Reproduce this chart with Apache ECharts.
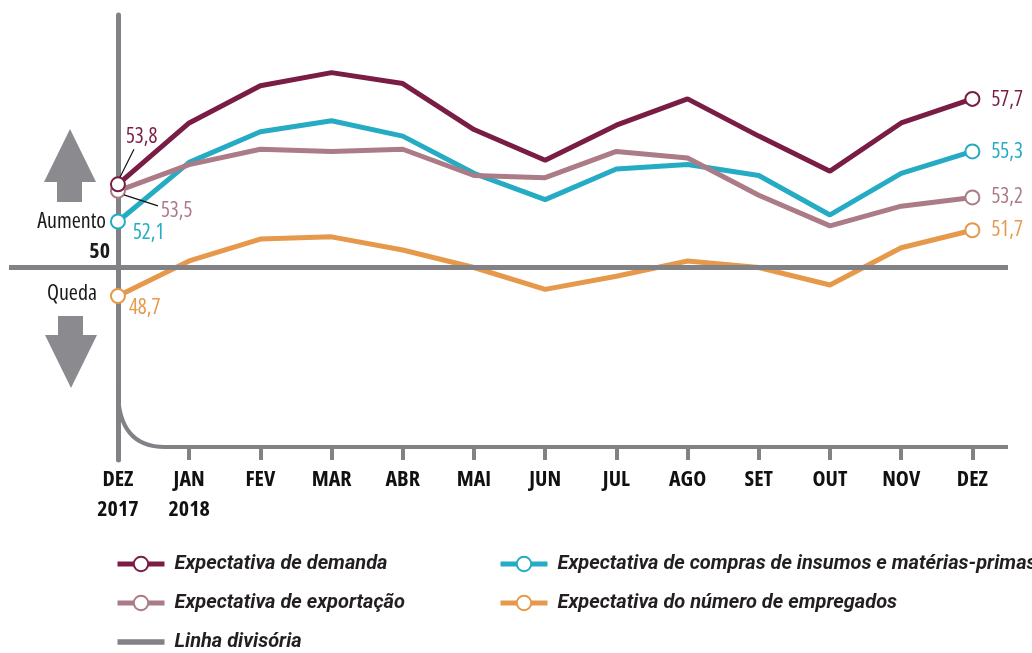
<!DOCTYPE html>
<html>
<head>
<meta charset="utf-8">
<script src="https://cdn.jsdelivr.net/npm/echarts@6/dist/echarts.min.js"></script>
<style>
  html, body { margin: 0; padding: 0; background: #fff; }
  #main { width: 1032px; height: 653px; }
</style>
</head>
<body>
<div id="main"></div>
<script>
// meses (DEZ 2017 .. DEZ 2018)
const months = ["DEZ\n2017", "JAN\n2018", "FEV", "MAR", "ABR", "MAI", "JUN", "JUL", "AGO", "SET", "OUT", "NOV", "DEZ"];

// valores
const demanda = [53.8, 56.6, 58.3, 58.9, 58.4, 56.3, 54.9, 56.5, 57.7, 56.0, 54.4, 56.6, 57.7];
const compras = [52.1, 54.8, 56.2, 56.7, 56.0, 54.3, 53.1, 54.5, 54.7, 54.2, 52.4, 54.3, 55.3];
const exportacao = [53.5, 54.7, 55.4, 55.3, 55.4, 54.2, 54.1, 55.3, 55.0, 53.3, 51.9, 52.8, 53.2];
const empregados = [48.7, 50.3, 51.3, 51.4, 50.8, 50.0, 49.0, 49.6, 50.3, 50.0, 49.2, 50.9, 51.7];
const divisoria = 50;

// fonte estreita: Open Sans com largura condensada (via fontWeight)
const NARROW = "'Open Sans', sans-serif";
const LEGEND_FONT = "Roboto, sans-serif";
const GRAY = "#818186";

const names = {
  demanda: "Expectativa de demanda",
  compras: "Expectativa de compras de insumos e matérias-primas",
  exportacao: "Expectativa de exportação",
  empregados: "Expectativa do número de empregados",
  linha: "Linha divisória",
};

const fmt = (v) => v.toFixed(1).replace(".", ",");

// só o primeiro e o último ponto têm círculo e rótulo
function buildData(values, firstOffset, lastOffset) {
  const last = values.length - 1;
  return values.map((v, i) => {
    const edge = i === 0 || i === last;
    return {
      value: [i, v],
      symbol: edge ? "emptyCircle" : "none",
      label: { show: edge, offset: i === 0 ? firstOffset : lastOffset },
    };
  });
}

function lineSeries(name, color, values, firstOffset, lastOffset, z) {
  return {
    name: name,
    type: "line",
    z: z,
    data: buildData(values, firstOffset, lastOffset),
    symbol: "emptyCircle",
    symbolSize: 14,
    color: color,
    lineStyle: { width: 5, color: color },
    itemStyle: { color: color, borderWidth: 2.5 },
    label: {
      position: "right",
      distance: 5,
      color: color,
      fontFamily: NARROW,
      fontWeight: "condensed",
      fontSize: 21,
      formatter: (p) => fmt(p.value[1]),
    },
    emphasis: { disabled: true },
  };
}

var myChart = echarts.init(document.getElementById("main"));

const legendText = {
  fontFamily: LEGEND_FONT,
  fontSize: 20,
  fontWeight: "bold",
  fontStyle: "italic",
  color: "#231f20",
  lineHeight: 20,
  padding: [0, 0, 0, 5],
};

myChart.setOption({
  animation: false,
  grid: { left: 9, right: 24, top: 15, bottom: 193, outerBoundsMode: "none" },
  xAxis: {
    type: "value",
    min: -1.53,
    max: 12.5,
    splitLine: { show: false },
    axisLine: { show: false, onZero: false },
    axisTick: {
      show: true,
      inside: true,
      length: 13,
      customValues: months.map((m, i) => i).slice(1),
      lineStyle: { color: GRAY, width: 4 },
    },
    axisLabel: {
      customValues: months.map((m, i) => i),
      formatter: (v) => months[Math.round(v)] || "",
      fontFamily: NARROW,
      fontWeight: "bold condensed",
      fontSize: 22,
      lineHeight: 30,
      color: "#111",
      margin: 5,
    },
  },
  yAxis: {
    type: "value",
    min: 41.21,
    max: 61.53,
    splitLine: { show: false },
    axisLabel: { show: false },
    axisTick: { show: false },
    axisLine: { show: true, onZero: true, lineStyle: { color: GRAY, width: 5 } },
  },
  legend: [
    {
      data: [names.demanda, names.exportacao, { name: names.linha, icon: "path://M0,0H44V5H0Z" }],
      orient: "vertical",
      left: 115,
      top: 554,
      height: 99,
      padding: 0,
      itemGap: 19,
      itemWidth: 47,
      itemHeight: 18,
      selectedMode: false,
      lineStyle: { width: 5 },
      textStyle: legendText,
    },
    {
      data: [names.compras, names.empregados],
      orient: "vertical",
      left: 498,
      top: 554,
      height: 99,
      padding: 0,
      itemGap: 19,
      itemWidth: 47,
      itemHeight: 18,
      selectedMode: false,
      lineStyle: { width: 5 },
      textStyle: legendText,
    },
  ],
  series: [
    {
      name: names.linha,
      type: "line",
      data: [],
      symbol: "none",
      color: GRAY,
      lineStyle: { width: 5, color: GRAY },
      z: 1,
      markLine: {
        silent: true,
        symbol: "none",
        label: { show: false },
        lineStyle: { color: GRAY, width: 5, type: "solid" },
        data: [{ yAxis: divisoria }],
      },
    },
    lineSeries(names.empregados, "#e6994b", empregados, [-2, 12], [6, 0], 2),
    lineSeries(names.compras, "#25abc4", compras, [2, 12], [6, 1], 3),
    lineSeries(names.exportacao, "#ab7b87", exportacao, [30, 20], [6, 0], 4),
    lineSeries(names.demanda, "#7a1d45", demanda, [-5, -47], [6, 1], 5),
  ],
});

// elementos decorativos posicionados a partir das escalas
const toPx = (x, y) => myChart.convertToPixel({ gridIndex: 0 }, [x, y]);
const origin = toPx(0, 41.21);
const axisY = origin[1] - 13;
const endX = toPx(12.5, divisoria)[0];
const pDem = toPx(0, demanda[0]);
const pExp = toPx(0, exportacao[0]);

const tb = { fontFamily: NARROW, fontWeight: "condensed", fontSize: 22, fill: "#1a1a1a", align: "right", verticalAlign: "middle" };

myChart.setOption({
  graphic: [
    // base com canto curvo
    {
      type: "bezierCurve",
      shape: { x1: origin[0], y1: axisY - 57, cpx1: origin[0], cpy1: axisY, x2: origin[0] + 47, y2: axisY },
      style: { stroke: GRAY, lineWidth: 4, fill: null },
      z: 1,
    },
    {
      type: "line",
      shape: { x1: origin[0] + 46, y1: axisY, x2: endX, y2: axisY },
      style: { stroke: GRAY, lineWidth: 4 },
      z: 1,
    },
    // linhas de chamada
    {
      type: "line",
      shape: { x1: pDem[0] + 2, y1: pDem[1] - 7, x2: pDem[0] + 16, y2: pDem[1] - 35 },
      style: { stroke: "#111", lineWidth: 1.2 },
      z: 10,
    },
    {
      type: "line",
      shape: { x1: pExp[0] + 6, y1: pExp[1] + 4, x2: pExp[0] + 40, y2: pExp[1] + 15 },
      style: { stroke: "#111", lineWidth: 1.2 },
      z: 10,
    },
    // setas
    {
      type: "polygon",
      shape: { points: [[70, 129], [96, 182], [82, 182], [82, 202], [57, 202], [57, 182], [44, 182]] },
      style: { fill: "#8b8b8f" },
    },
    {
      type: "polygon",
      shape: { points: [[58, 316], [83, 316], [83, 335], [97, 335], [71, 388], [45, 335], [58, 335]] },
      style: { fill: "#8b8b8f" },
    },
    { type: "text", x: 106, y: 222, style: Object.assign({}, tb, { text: "Aumento" }) },
    { type: "text", x: 110, y: 252, style: Object.assign({}, tb, { text: "50", fontWeight: "bold condensed" }) },
    { type: "text", x: 97, y: 294, style: Object.assign({}, tb, { text: "Queda" }) },
  ],
});
</script>
</body>
</html>
